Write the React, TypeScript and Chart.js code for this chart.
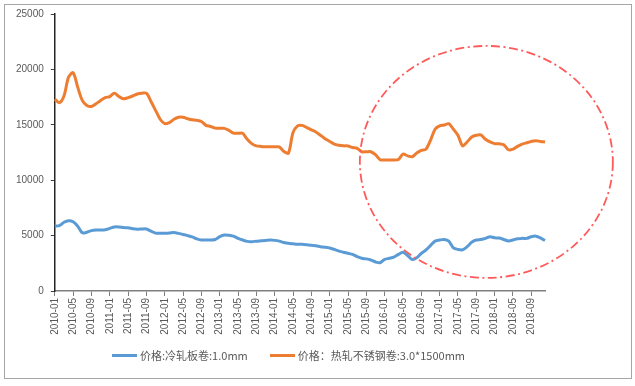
import React, { useEffect, useRef } from "react";
import { Chart, registerables } from "chart.js";

Chart.register(...registerables);

const years = [2010, 2011, 2012, 2013, 2014, 2015, 2016, 2017, 2018];
const monthNames = ["01", "02", "03", "04", "05", "06", "07", "08", "09", "10", "11", "12"];
const categories: string[] = [];
years.forEach((y) => monthNames.forEach((m) => categories.push(`${y}-${m}`)));

const coldRolledLabel = "价格:冷轧板卷:1.0mm";
const hotRolledLabel = "价格：热轧不锈钢卷:3.0*1500mm";
const coldColor = "#5b9bd5";
const hotColor = "#ed7d31";

const coldRolled = [
  5870, 5900, 6200, 6350, 6250, 5850, 5250, 5300, 5450, 5500, 5500, 5520,
  5650, 5780, 5780, 5730, 5700, 5620, 5570, 5600, 5600, 5400, 5220, 5210,
  5210, 5230, 5270, 5200, 5100, 5000, 4880, 4700, 4600, 4600, 4600, 4650,
  4900, 5050, 5030, 4950, 4750, 4600, 4480, 4450, 4500, 4530, 4560, 4600,
  4570, 4500, 4380, 4300, 4260, 4220, 4210, 4170, 4120, 4090, 4000, 3950,
  3880, 3750, 3600, 3500, 3400, 3300, 3100, 2950, 2900, 2800, 2620, 2550,
  2850, 2950, 3050, 3300, 3500, 3200, 2850, 3000, 3400, 3700, 4100, 4500,
  4600, 4650, 4500, 3900, 3750, 3720, 4000, 4400, 4600, 4650, 4750, 4900,
  4800, 4780, 4650, 4520, 4600, 4720, 4750, 4750, 4900, 4950, 4800, 4550,
];

const hotRolledStainless = [
  17300, 17000, 17600, 19300, 19700, 18400, 17200, 16750, 16650, 16900, 17200, 17450,
  17550, 17850, 17550, 17350, 17450, 17600, 17780, 17850, 17850, 17100, 16300, 15500,
  15100, 15200, 15500, 15680, 15680, 15550, 15450, 15400, 15300, 14950, 14850, 14700,
  14680, 14680, 14500, 14250, 14230, 14230, 13700, 13300, 13100, 13050, 13020, 13020,
  13020, 13000, 12600, 12450, 14300, 14900, 14950, 14750, 14550, 14350, 14050, 13750,
  13500, 13250, 13150, 13100, 13090, 12950, 12880, 12570, 12570, 12570, 12300, 11850,
  11820, 11820, 11820, 11870, 12350, 12200, 12120, 12450, 12700, 12800, 13600, 14600,
  14900, 14980, 15100, 14600, 14050, 13100, 13450, 13900, 14050, 14080, 13700, 13450,
  13300, 13280, 13200, 12750, 12800, 13050, 13250, 13380, 13500, 13570, 13500, 13450,
];

const yTicks = [0, 5000, 10000, 15000, 20000, 25000];

const ellipsePlugin = {
  id: "dashEllipse",
  afterDatasetsDraw(chart: any) {
    const { ctx, scales } = chart;
    const cx = scales.x.getPixelForValue(94.2);
    const cy = scales.y.getPixelForValue(11650);
    ctx.save();
    ctx.strokeStyle = "#ff5a5a";
    ctx.lineWidth = 1.8;
    ctx.setLineDash([9, 3.5, 2, 3.5]);
    ctx.beginPath();
    ctx.ellipse(cx, cy, 126.5, 116, 0, 0, Math.PI * 2);
    ctx.stroke();
    ctx.restore();
  },
};

const legendItems = [
  { label: coldRolledLabel, color: coldColor },
  { label: hotRolledLabel, color: hotColor },
];

export default function App() {
  const ref = useRef<HTMLCanvasElement>(null);

  useEffect(() => {
    if (!ref.current) return;
    const chart = new Chart(ref.current, {
      type: "line",
      data: {
        labels: categories,
        datasets: [
          {
            label: coldRolledLabel,
            data: coldRolled,
            borderColor: coldColor,
            backgroundColor: coldColor,
            borderWidth: 3,
            pointRadius: 0,
            tension: 0.3,
          },
          {
            label: hotRolledLabel,
            data: hotRolledStainless,
            borderColor: hotColor,
            backgroundColor: hotColor,
            borderWidth: 3,
            pointRadius: 0,
            tension: 0.3,
          },
        ],
      },
      options: {
        animation: false,
        responsive: false,
        maintainAspectRatio: false,
        layout: { padding: { left: 9, right: 90, top: 14, bottom: 48 } },
        plugins: {
          tooltip: { enabled: false },
          legend: { display: false },
        },
        scales: {
          x: {
            type: "category",
            offset: false,
            grid: {
              display: true,
              drawOnChartArea: false,
              drawTicks: true,
              tickLength: 5,
              color: "#7f7f7f",
            },
            border: { display: true, color: "#7f7f7f", width: 1.5 },
            ticks: {
              autoSkip: false,
              minRotation: 90,
              maxRotation: 90,
              padding: 2,
              color: "#595959",
              font: { family: "'Liberation Sans', sans-serif", size: 10 },
              callback: (_v: any, i: number) => (i % 4 === 0 ? categories[i] : null),
            },
            afterFit: (s: any) => {
              s.height = 47;
            },
          },
          y: {
            min: 0,
            max: 25000,
            afterBuildTicks: (s: any) => {
              s.ticks = yTicks.map((v) => ({ value: v }));
            },
            grid: {
              display: true,
              drawOnChartArea: false,
              drawTicks: true,
              tickLength: 4,
              color: "#404040",
            },
            border: { display: true, color: "#262626", width: 1.5 },
            ticks: {
              padding: 7,
              color: "#595959",
              font: { family: "'Liberation Sans', sans-serif", size: 10 },
              callback: (v: any) => String(v),
            },
          },
        },
      },
      plugins: [ellipsePlugin],
    });
    return () => chart.destroy();
  }, []);

  return (
    <div style={{ position: "fixed", left: 0, top: 0, width: 635, height: 386, background: "#fff" }}>
      <canvas ref={ref} width={635} height={386} style={{ position: "absolute", left: 0, top: 0, width: 635, height: 386 }} />
      <div
        style={{
          position: "absolute",
          left: 112,
          top: 346,
          height: 18,
          display: "flex",
          alignItems: "center",
          fontFamily: "'Noto Sans CJK SC', 'Liberation Sans', sans-serif",
          fontSize: 11,
          color: "#595959",
          whiteSpace: "nowrap",
        }}
      >
        {legendItems.map((it, i) => (
          <div key={i} style={{ display: "flex", alignItems: "center", marginRight: i === 0 ? 22 : 0 }}>
            <span style={{ display: "inline-block", width: 25, height: 3, background: it.color, marginRight: 3 }} />
            <span>{it.label}</span>
          </div>
        ))}
      </div>
      <div
        style={{
          position: "absolute",
          left: 4,
          top: 4,
          width: 628,
          height: 375,
          boxSizing: "border-box",
          border: "1.5px solid #a6a6a6",
          pointerEvents: "none",
        }}
      />
    </div>
  );
}
